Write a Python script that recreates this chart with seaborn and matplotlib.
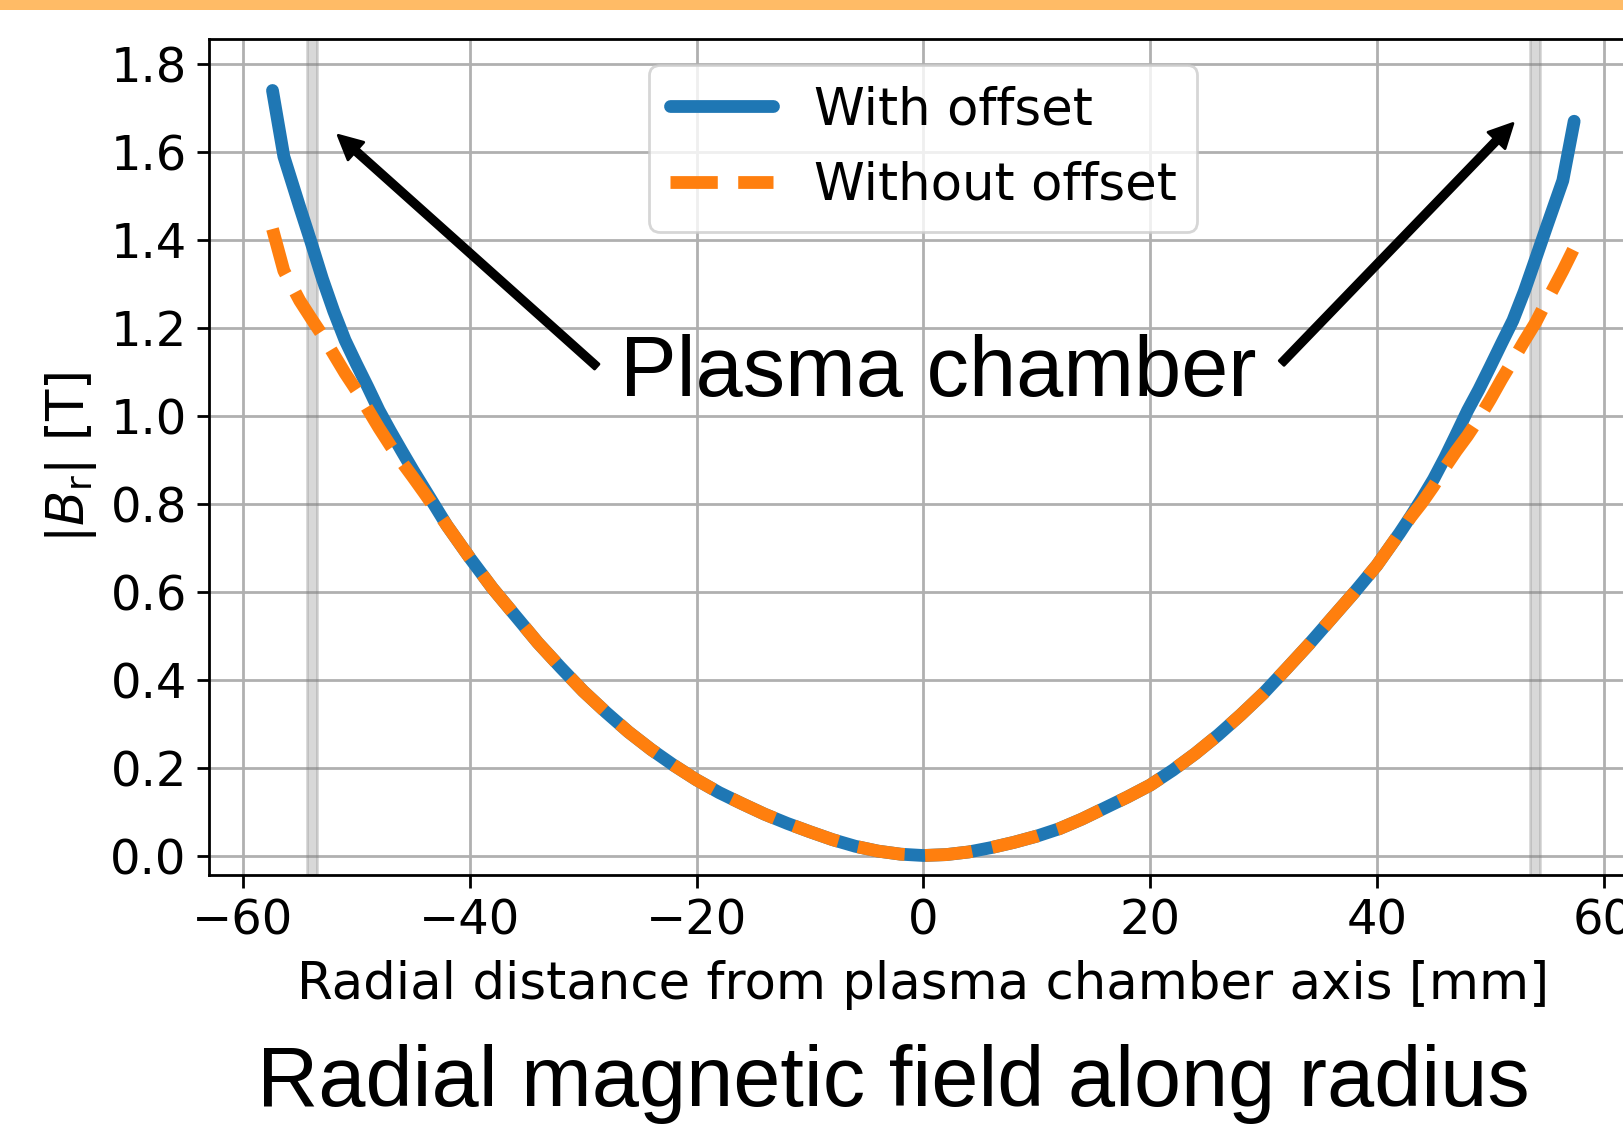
import matplotlib
matplotlib.use("Agg")
import matplotlib.pyplot as plt
from matplotlib.patches import Rectangle
import seaborn as sns

# Radial positions across the chamber [mm]
radius_mm = [-57.4, -56.4, -55.0, -54.0, -53.0, -52.0, -51.0, -50.0, -49.0, -48.0,
             -47.0, -46.0, -45.0, -44.0, -43.0, -42.0, -40.0, -38.0, -36.0, -34.0,
             -32.0, -30.0, -28.0, -26.0, -24.0, -22.0, -20.0, -18.0, -16.0, -14.0,
             -12.0, -10.0, -8.0, -6.0, -4.0, -2.0, 0.0, 2.0, 4.0, 6.0,
             8.0, 10.0, 12.0, 14.0, 16.0, 18.0, 20.0, 22.0, 24.0, 26.0,
             28.0, 30.0, 32.0, 34.0, 36.0, 38.0, 40.0, 42.0, 43.0, 44.0,
             45.0, 46.0, 47.0, 48.0, 49.0, 50.0, 51.0, 52.0, 53.0, 54.0,
             55.0, 56.4, 57.4]

# |B_r| [T] with the magnet offset applied
br_with_offset = [1.740, 1.590, 1.475, 1.395, 1.312, 1.238, 1.172, 1.118, 1.066, 1.012,
                  0.965, 0.920, 0.876, 0.834, 0.792, 0.750, 0.677, 0.608, 0.546, 0.484,
                  0.428, 0.374, 0.326, 0.281, 0.241, 0.205, 0.172, 0.143, 0.118, 0.094,
                  0.073, 0.054, 0.036, 0.021, 0.010, 0.003, 0.000, 0.002, 0.008, 0.018,
                  0.030, 0.044, 0.061, 0.083, 0.108, 0.133, 0.160, 0.194, 0.232, 0.274,
                  0.320, 0.369, 0.424, 0.480, 0.539, 0.598, 0.660, 0.733, 0.772, 0.813,
                  0.856, 0.905, 0.958, 1.012, 1.060, 1.112, 1.165, 1.217, 1.283, 1.357,
                  1.432, 1.535, 1.670]

# |B_r| [T] without the offset
br_without_offset = [1.425, 1.330, 1.262, 1.222, 1.183, 1.140, 1.097, 1.058, 1.015, 0.972,
                     0.932, 0.895, 0.860, 0.824, 0.787, 0.750, 0.677, 0.608, 0.546, 0.484,
                     0.428, 0.374, 0.326, 0.281, 0.241, 0.205, 0.172, 0.143, 0.118, 0.094,
                     0.073, 0.054, 0.036, 0.021, 0.010, 0.003, 0.000, 0.002, 0.008, 0.018,
                     0.030, 0.044, 0.061, 0.083, 0.108, 0.133, 0.160, 0.194, 0.232, 0.274,
                     0.320, 0.369, 0.424, 0.480, 0.539, 0.598, 0.660, 0.733, 0.770, 0.803,
                     0.840, 0.882, 0.920, 0.955, 0.994, 1.037, 1.083, 1.126, 1.170, 1.212,
                     1.262, 1.330, 1.382]

# Chamber wall positions [mm]
wall_spans = [(-54.4, -53.5), (53.5, 54.4)]

x_ticks = [-60, -40, -20, 0, 20, 40, 60]
y_ticks = [0.0, 0.2, 0.4, 0.6, 0.8, 1.0, 1.2, 1.4, 1.6, 1.8]

sns.set_style("ticks")
plt.rcParams["font.family"] = ["DejaVu Sans"]
plt.rcParams["mathtext.fontset"] = "dejavusans"
plt.rcParams["text.color"] = "black"
plt.rcParams["axes.labelcolor"] = "black"
plt.rcParams["xtick.color"] = "black"
plt.rcParams["ytick.color"] = "black"

fig = plt.figure(figsize=(8.12, 5.625), dpi=200)
ax = fig.add_axes([0.1287, 0.2222, 0.8797, 0.7431])

ax.grid(True, color="#b0b0b0", lw=1.0)
ax.set_axisbelow(True)

for lo, hi in wall_spans:
    ax.axvspan(lo, hi, color="grey", alpha=0.3, lw=1.0, zorder=1)

sns.lineplot(x=radius_mm, y=br_with_offset, ax=ax, color="#1f77b4", lw=4.6,
             label="With offset", zorder=3)
sns.lineplot(x=radius_mm, y=br_without_offset, ax=ax, color="#ff7f0e", lw=4.6,
             linestyle="--", label="Without offset", zorder=4)

ax.set_xlim(-63, 63)
ax.set_ylim(-0.0444, 1.857)
ax.set_xticks(x_ticks)
ax.set_yticks(y_ticks)
ax.tick_params(labelsize=17.3, length=4.5, width=1.0, direction="out")
for sp in ax.spines.values():
    sp.set_color("black")
    sp.set_linewidth(1.0)

ax.set_xlabel("Radial distance from plasma chamber axis [mm]", fontsize=18.5,
              labelpad=5.5)
ax.set_ylabel(r"$|B_\mathrm{r}|$ [T]", fontsize=18.5)

leg = ax.legend(loc="upper center", fontsize=18.5, handlelength=2.0,
                framealpha=0.8, edgecolor="0.8", fancybox=True)

# Annotation pointing at both chamber walls
ax.text(1.35, 1.045, "Plasma chamber", ha="center", va="baseline",
        fontsize=30.5, family="Liberation Sans")
arrow_kw = dict(facecolor="black", edgecolor="black", width=2.4,
                headwidth=8.5, headlength=8.5, shrink=0.0)
ax.annotate("", xy=(-51.6, 1.638), xytext=(-28.8, 1.112), arrowprops=arrow_kw)
ax.annotate("", xy=(52.0, 1.665), xytext=(31.6, 1.120), arrowprops=arrow_kw)

fig.text(0.55, 0.0169, "Radial magnetic field along radius", ha="center",
         va="baseline", fontsize=30.5, family="Liberation Sans")

fig.add_artist(Rectangle((0, 1 - 10 / 1125), 1, 10 / 1125,
                         transform=fig.transFigure, color="#FFBB66", lw=0))

fig.savefig("out.png", dpi=200)
